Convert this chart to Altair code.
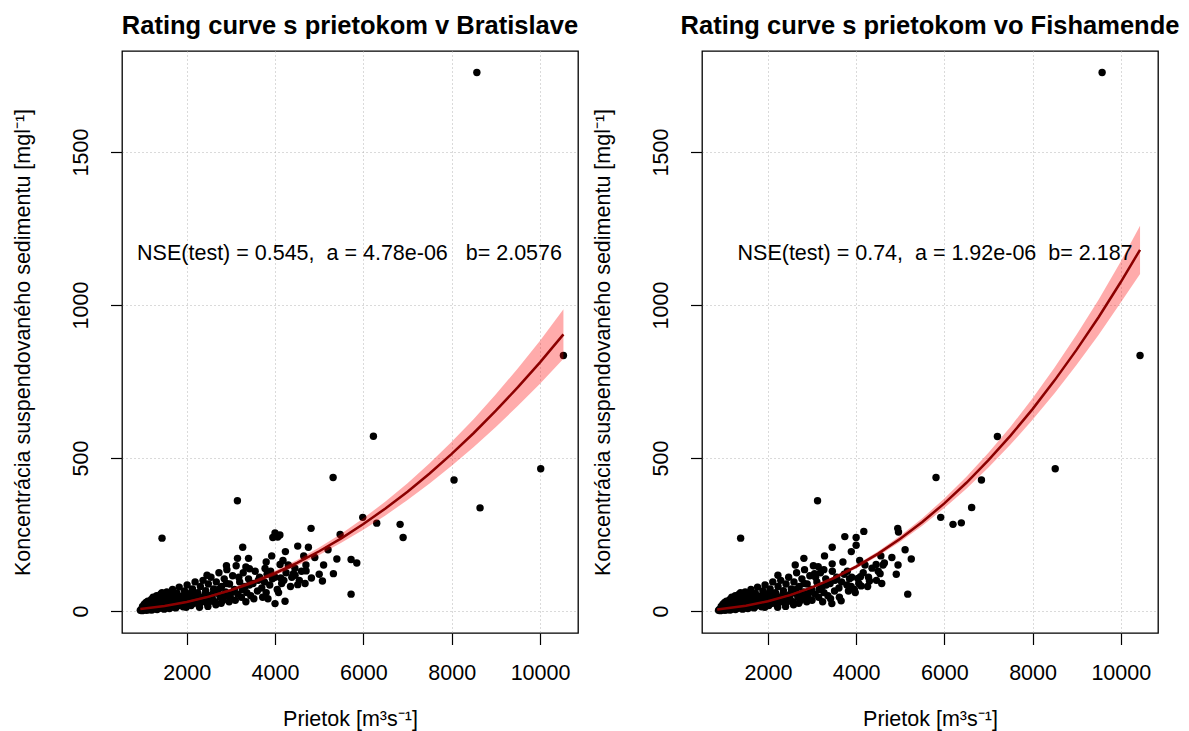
import altair as alt
import pandas as pd

FONT = "Liberation Sans"

x_ticks = [2000, 4000, 6000, 8000, 10000]
y_ticks = [0, 500, 1000, 1500]

# ---- Bratislava panel: (flow, concentration) ----
ba_points = [
    (950, 2), (970, 5), (990, 1), (1010, 8), (1030, 3), (1050, 12), (1070, 6), (1090, 2), (1110, 15), (1130, 9),
    (1150, 4), (1170, 20), (1190, 11), (1210, 3), (1230, 25), (1250, 14), (1270, 7), (1290, 30), (1310, 18), (1330, 5),
    (1350, 40), (1370, 22), (1390, 9), (1410, 55), (1430, 28), (1450, 12), (1470, 35), (1490, 6), (1510, 48), (1530, 20),
    (1550, 62), (1570, 15), (1590, 38), (1610, 8), (1630, 52), (1650, 25), (1680, 70), (1700, 18), (1720, 44), (1750, 10),
    (1780, 58), (1800, 30), (1830, 78), (1860, 22), (1890, 48), (1920, 14), (1950, 65), (1980, 35), (2010, 85), (2040, 26),
    (2070, 55), (2100, 18), (2130, 72), (2160, 40), (2190, 95), (2220, 30), (2250, 60), (2280, 22), (2310, 80), (2340, 45),
    (2370, 100), (2400, 35), (2430, 66), (2460, 25), (2490, 88), (2520, 50), (2550, 110), (2580, 40), (2610, 72), (2640, 30),
    (2670, 95), (2700, 58), (2730, 125), (2760, 45), (2790, 80), (2820, 35), (2850, 105), (2880, 62), (2910, 135), (2940, 50),
    (2970, 88), (3000, 40), (3040, 115), (3080, 70), (3120, 148), (3160, 55), (3200, 95), (3240, 45), (3280, 125), (3320, 80),
    (3360, 60), (3400, 105), (3450, 50), (3500, 90), (3550, 130), (3600, 65), (3650, 110), (3700, 75), (3760, 95), (3820, 120),
    (3880, 85), (3940, 105), (4050, 70), (4150, 90), (4250, 125), (4350, 80), (4450, 140), (4550, 100), (4650, 180), (4700, 150),
    (4900, 175), (5000, 120), (5200, 200),
    (1000, 15), (1040, 22), (1080, 28), (1120, 32), (1160, 10), (1200, 38), (1240, 45), (1280, 18), (1320, 50), (1360, 32),
    (1400, 15), (1440, 60), (1480, 25), (1520, 10), (1560, 42), (1600, 28), (1640, 12), (1690, 36), (1740, 50), (1790, 16),
    (1840, 40), (1880, 28), (1940, 50), (1990, 12), (2050, 40), (2110, 62), (2170, 25), (2230, 48), (2290, 12), (2350, 30),
    (2420, 55), (2480, 15), (2540, 32), (2600, 58), (2660, 20), (2720, 70), (2780, 25), (2840, 48), (2900, 90), (2960, 30),
    (3020, 60), (3100, 35), (3180, 110), (3260, 70), (3340, 30), (3420, 85), (3520, 40), (3620, 100), (3720, 45), (3800, 160),
    (3900, 130), (4000, 110), (4080, 60), (4180, 165), (4300, 150), (4380, 110), (4600, 130), (4680, 90), (5100, 150), (5400, 170),
    (8570, 1760), (10530, 835), (10016, 465), (8053, 428), (8642, 337), (6228, 571), (5315, 436), (3148, 360),
    (1441, 238), (4816, 270), (4000, 255), (4060, 242), (4110, 248), (3950, 240), (3268, 208), (3150, 172),
    (3400, 172), (2900, 148), (3340, 144), (3420, 138), (2460, 117), (4514, 212), (4756, 208), (4235, 194),
    (3925, 180), (3774, 139), (4114, 152), (4703, 131), (4824, 108), (4416, 122), (4454, 117), (5322, 122),
    (5073, 98), (5722, 168), (5851, 157), (5986, 306), (6303, 287), (6832, 283), (6900, 240), (5474, 250),
    (5722, 55), (4514, 86), (4227, 32), (4000, 24), (3800, 60), (3840, 40), (4200, 100), (4130, 108),
]

# ---- Fishamend panel ----
fi_points = [
    (880, 2), (900, 5), (920, 1), (940, 8), (960, 3), (985, 12), (1005, 6), (1025, 2), (1045, 15), (1065, 9),
    (1085, 4), (1105, 20), (1125, 11), (1145, 3), (1165, 25), (1185, 14), (1205, 7), (1225, 30), (1245, 18), (1265, 5),
    (1285, 40), (1305, 22), (1325, 9), (1345, 55), (1365, 28), (1385, 12), (1405, 35), (1425, 6), (1445, 48), (1465, 20),
    (1485, 62), (1505, 15), (1525, 38), (1545, 8), (1565, 52), (1585, 25), (1615, 70), (1635, 18), (1655, 44), (1685, 10),
    (1715, 58), (1735, 30), (1765, 78), (1795, 22), (1825, 48), (1855, 14), (1885, 65), (1915, 35), (1935, 85), (1965, 26),
    (1995, 55), (2020, 18), (2050, 72), (2080, 40), (2110, 95), (2140, 30), (2170, 60), (2200, 22), (2230, 80), (2260, 45),
    (2290, 100), (2320, 35), (2350, 66), (2380, 25), (2410, 88), (2440, 50), (2470, 110), (2500, 40), (2530, 72), (2560, 30),
    (2590, 95), (2620, 58), (2650, 125), (2680, 45), (2710, 80), (2740, 35), (2770, 105), (2800, 62), (2830, 135), (2860, 50),
    (2890, 88), (2920, 40), (2950, 115), (2990, 70), (3030, 148), (3070, 55), (3110, 95), (3150, 45), (3190, 125), (3230, 80),
    (3270, 60), (3310, 105), (3360, 50), (3410, 90), (3460, 130), (3510, 65), (3560, 110), (3610, 75), (3670, 95), (3730, 120),
    (3790, 85), (3850, 105), (3960, 70), (4060, 90), (4160, 125), (4260, 80), (4360, 140), (4460, 100), (4560, 180), (4610, 150),
    (4810, 175), (4910, 120), (5110, 200),
    (940, 15), (980, 22), (1020, 28), (1060, 32), (1100, 10), (1140, 38), (1180, 45), (1220, 18), (1260, 50), (1300, 32),
    (1340, 15), (1380, 60), (1420, 25), (1460, 10), (1500, 42), (1540, 28), (1580, 12), (1630, 36), (1680, 50), (1730, 16),
    (1780, 40), (1820, 28), (1880, 50), (1930, 12), (1980, 40), (2040, 62), (2100, 25), (2160, 48), (2220, 12), (2270, 30),
    (2340, 55), (2400, 15), (2460, 32), (2520, 58), (2580, 20), (2640, 70), (2700, 25), (2760, 48), (2820, 90), (2880, 30),
    (2940, 60), (3000, 35), (3080, 110), (3160, 70), (3240, 30), (3320, 85), (3420, 40), (3520, 100), (3620, 45), (3700, 160),
    (3800, 130), (3900, 110), (3980, 60), (4080, 165), (4200, 150), (4280, 110), (4500, 130), (4580, 90), (4950, 150), (5250, 170),
    (9577, 1760), (10437, 835), (8514, 465), (7203, 570), (6841, 428), (6619, 338), (5811, 436), (3125, 360),
    (1381, 238), (5917, 306), (6196, 283), (6385, 288), (4943, 270), (5170, 55), (4174, 260), (4000, 240),
    (4000, 215), (3890, 194), (3743, 243), (3457, 208), (3283, 180), (3457, 154), (2815, 172), (2619, 150),
    (2226, 117), (4640, 157), (4453, 152), (4543, 122), (4302, 98), (4113, 82), (3057, 122), (3140, 145),
    (3268, 135), (3449, 24), (3660, 33), (3826, 65), (3887, 80), (4038, 106), (4098, 112), (4960, 258),
]

# ---- fitted curve and confidence band ----
ba_curve_q = [950, 1500, 2000, 2500, 3000, 3500, 4000, 4500, 5000, 5500,
              6000, 6500, 7000, 7500, 8000, 8500, 9000, 9500, 10000, 10530]
ba_curve_fit = [6.4, 16.4, 29.6, 46.9, 68.2, 93.7, 123.3, 157.1, 195.2, 237.4,
                284.0, 334.9, 389.9, 449.4, 513.5, 581.6, 654.4, 731.3, 812.3, 904.0]
ba_curve_lo = [5.6, 14.8, 27.0, 43.2, 63.3, 87.5, 115.6, 147.5, 183.3, 222.6,
               265.6, 312.2, 362.4, 416.5, 474.5, 536.1, 601.3, 670.4, 742.8, 824.0]
ba_curve_hi = [7.3, 18.0, 32.3, 50.7, 73.2, 100.0, 131.1, 166.8, 207.3, 252.4,
               302.7, 357.8, 417.6, 482.6, 552.7, 627.6, 708.1, 793.6, 883.4, 986.0]

fi_curve_q = [850, 1500, 2000, 2500, 3000, 3500, 4000, 4500, 5000, 5500,
              6000, 6500, 7000, 7500, 8000, 8500, 9000, 9500, 10000, 10437]
fi_curve_fit = [4.9, 17.0, 31.8, 51.8, 77.2, 108.2, 144.9, 187.5, 236.0, 290.9,
                351.7, 419.0, 492.7, 573.0, 659.7, 753.6, 854.0, 960.6, 1075.0, 1180.4]
fi_curve_lo = [4.4, 15.6, 29.6, 48.6, 72.9, 102.8, 138.4, 179.6, 226.1, 278.4,
               336.2, 399.6, 468.5, 543.8, 624.6, 711.8, 804.8, 902.9, 1007.8, 1101.5]
fi_curve_hi = [5.4, 18.4, 34.0, 55.0, 81.5, 113.6, 151.4, 195.4, 245.9, 303.4,
               367.2, 438.4, 516.9, 602.2, 694.8, 795.4, 903.2, 1018.3, 1142.2, 1259.3]

titles = ["Rating curve s prietokom v Bratislave", "Rating curve s prietokom vo Fishamende"]
NB = "\u00a0"
notes = ["NSE(test) = 0.545," + NB * 2 + "a = 4.78e-06" + NB * 3 + "b= 2.0576",
         "NSE(test) = 0.74," + NB * 2 + "a = 1.92e-06" + NB * 2 + "b= 2.187"]
note_pos = [(5687, 1167), (5789, 1167)]
x_domains = [[535, 10860], [505, 10844]]
y_domain = [-72, 1830]

W, H = 456, 582
FS = 21.5


def panel(points, cq, cfit, clo, chi, xdom, title, note, npos):
    pts = pd.DataFrame(points, columns=["q", "c"])
    cur = pd.DataFrame({"q": cq, "fit": cfit, "lo": clo, "hi": chi})
    txt = pd.DataFrame({"q": [npos[0]], "c": [npos[1]], "t": [note]})
    xs = alt.Scale(domain=xdom, nice=False, zero=False)
    ys = alt.Scale(domain=y_domain, nice=False, zero=False)
    xax = alt.Axis(values=x_ticks, format="d", grid=True, gridDash=[1, 3], gridColor="#b4b4b4",
                   domain=False, ticks=True, tickSize=11.5, tickColor="black", tickWidth=1.2,
                   labelFont=FONT, labelFontSize=FS, labelColor="black", labelPadding=18,
                   labelFlush=False, labelOverlap=False,
                   title="Prietok [m³s⁻¹]", titleFont=FONT, titleFontSize=FS,
                   titleFontWeight="normal", titleColor="black", titlePadding=24)
    yax = alt.Axis(values=y_ticks, format="d", grid=True, gridDash=[1, 3], gridColor="#b4b4b4",
                   domain=False, ticks=True, tickSize=11.5, tickColor="black", tickWidth=1.2,
                   labelFont=FONT, labelFontSize=FS, labelColor="black", labelPadding=23.5,
                   labelAngle=270, labelAlign="center", labelBaseline="alphabetic",
                   labelFlush=False, labelOverlap=False,
                   title="Koncentrácia suspendovaného sedimentu [mgl⁻¹]", titleFont=FONT,
                   titleFontSize=FS, titleFontWeight="normal", titleColor="black",
                   titleX=-93, titleY=H / 2, titleAngle=270, titleBaseline="alphabetic",
                   titleAlign="center")
    p = alt.Chart(pts).mark_circle(size=55, color="black", opacity=1).encode(
        x=alt.X("q:Q", scale=xs, axis=xax), y=alt.Y("c:Q", scale=ys, axis=yax))
    band = alt.Chart(cur).mark_area(color="#ff0000", opacity=0.33).encode(
        x=alt.X("q:Q", scale=xs, axis=xax), y=alt.Y("lo:Q", scale=ys, axis=yax), y2="hi:Q")
    line = alt.Chart(cur).mark_line(color="#8b0000", strokeWidth=2.5).encode(
        x=alt.X("q:Q", scale=xs, axis=xax), y=alt.Y("fit:Q", scale=ys, axis=yax))
    t = alt.Chart(txt).mark_text(font=FONT, fontSize=FS, color="black", align="center",
                                 baseline="middle").encode(
        x=alt.X("q:Q", scale=xs, axis=xax), y=alt.Y("c:Q", scale=ys, axis=yax), text="t:N")
    return alt.layer(p, band, line, t).properties(
        width=W, height=H,
        view=alt.ViewBackground(stroke="#000000", strokeWidth=1.3, fill="white"),
        title=alt.Title(title, font=FONT, fontSize=25.5, fontWeight="bold", color="black",
                        anchor="middle", offset=12))


left = panel(ba_points, ba_curve_q, ba_curve_fit, ba_curve_lo, ba_curve_hi,
             x_domains[0], titles[0], notes[0], note_pos[0])
right = panel(fi_points, fi_curve_q, fi_curve_fit, fi_curve_lo, fi_curve_hi,
              x_domains[1], titles[1], notes[1], note_pos[1])

chart = alt.hconcat(left, right, spacing=12).properties(
    padding={"left": 3, "top": 4, "right": 0, "bottom": 0}
).configure_view(stroke="#000000", strokeWidth=1.3).configure(background="white")

chart.save("out.html", embed_options={"renderer": "svg", "actions": False})
